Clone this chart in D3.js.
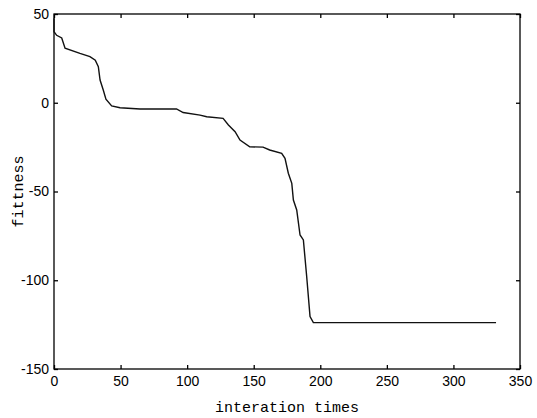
<!doctype html>
<head>
  <title>fitness curve</title>
</head>
<style>
  body { margin: 0; background: #fff; }
  .tick text { font-family: "Liberation Sans", Arial, sans-serif; font-size: 14px; fill: #000; }
  .lbl { font-family: "Liberation Mono", "Courier New", monospace; font-size: 15px; fill: #000; }
</style>
<body>
  <script src="https://d3js.org/d3.v7.min.js"></script>
  <svg id="chart" width="537" height="418"></svg>
  <script>

  // iteration / fitness values
  const iters   = [0, 0, 2, 5.8, 8.3, 19.5, 27, 31, 33.3, 34.6, 37, 39, 43.3, 49.6, 64.6, 92, 97, 109.7, 114.7, 127,
                   131, 136, 139.7, 147, 157, 162, 171, 173.5, 176, 178.6, 179.8, 182.3, 184.8, 187.3, 189.8, 192.3, 194.8, 332];
  const fitness = [47.6, 40, 38, 36.5, 30.7, 27.8, 26, 24, 20.3, 12.8, 7.2, 2, -1.8, -2.8, -3.5, -3.5, -5.5, -7, -7.9, -8.8,
                   -12.5, -16.3, -21, -24.8, -25, -26.6, -28.5, -31.3, -39.7, -45.4, -54.8, -60.4, -74.5, -77.3, -98, -120.5, -123.9, -123.9];
  const xTicks = [0, 50, 100, 150, 200, 250, 300, 350];
  const yTicks = [50, 0, -50, -100, -150];

  let svg = d3.select("#chart");
  const m = {left: 54, top: 14, right: 520, bottom: 369};

  let x = d3.scaleLinear().domain([0, 350]).range([m.left, m.right]);
  let y = d3.scaleLinear().domain([-150, 50]).range([m.bottom, m.top]);

  // frame
  svg.append("rect")
    .attr("x", m.left).attr("y", m.top)
    .attr("width", m.right - m.left).attr("height", m.bottom - m.top)
    .attr("fill", "none").attr("stroke", "#000").attr("stroke-width", 1.3);

  // axes with inward ticks
  let axB = svg.append("g").attr("transform", `translate(0,${m.bottom})`)
    .call(d3.axisBottom(x).tickValues(xTicks).tickSize(-4).tickPadding(7));
  let axT = svg.append("g").attr("transform", `translate(0,${m.top})`)
    .call(d3.axisTop(x).tickValues(xTicks).tickSize(-4).tickFormat(""));
  let axL = svg.append("g").attr("transform", `translate(${m.left},0)`)
    .call(d3.axisLeft(y).tickValues(yTicks).tickSize(-4).tickPadding(5));
  let axR = svg.append("g").attr("transform", `translate(${m.right},0)`)
    .call(d3.axisRight(y).tickValues(yTicks).tickSize(-4).tickFormat(""));

  [axB, axT, axL, axR].forEach(g => {
    g.select(".domain").remove();
    g.selectAll(".tick line").attr("stroke", "#000").attr("stroke-width", 1.3);
  });
  axL.selectAll(".tick text").text(d => d < 0 ? "-" + Math.abs(d) : d);

  // curve
  svg.append("path")
    .datum(iters.map((d, i) => [d, fitness[i]]))
    .attr("fill", "none")
    .attr("stroke", "#111")
    .attr("stroke-width", 1.4)
    .attr("d", d3.line().x(d => x(d[0])).y(d => y(d[1])));

  // labels
  svg.append("text").attr("class", "lbl")
    .attr("x", (m.left + m.right) / 2).attr("y", 412)
    .attr("text-anchor", "middle").text("interation times");
  svg.append("text").attr("class", "lbl")
    .attr("transform", `translate(23,${(m.top + m.bottom) / 2}) rotate(-90)`)
    .attr("text-anchor", "middle").text("fittness");

  </script>
</body>
